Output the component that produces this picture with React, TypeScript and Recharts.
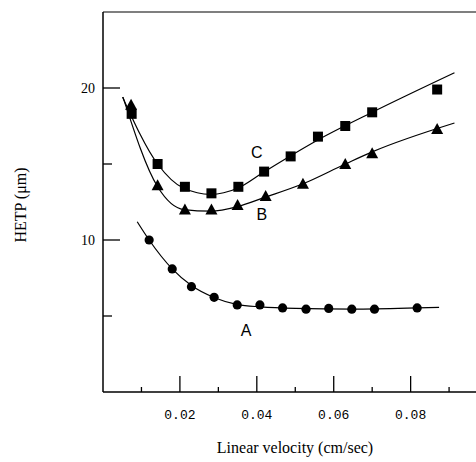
import { ComposedChart, Line, Scatter, XAxis, YAxis, ReferenceLine } from 'recharts';

// measured points
const velA = [0.012, 0.018, 0.023, 0.0289, 0.0349, 0.0408, 0.0467, 0.0528, 0.0587, 0.0647, 0.0706, 0.0817];
const hetpA = [10.0, 8.1, 6.93, 6.23, 5.73, 5.73, 5.53, 5.45, 5.5, 5.45, 5.45, 5.53];
const velB = [0.0073, 0.0142, 0.0213, 0.0282, 0.035, 0.0423, 0.052, 0.063, 0.07, 0.0869];
const hetpB = [18.9, 13.6, 12.0, 12.0, 12.3, 12.9, 13.7, 15.0, 15.7, 17.3];
const velC = [0.00745, 0.0142, 0.0213, 0.0282, 0.0352, 0.0419, 0.0488, 0.0559, 0.063, 0.07, 0.0869];
const hetpC = [18.3, 15.0, 13.5, 13.07, 13.5, 14.5, 15.5, 16.8, 17.5, 18.4, 19.9];

// fitted curves
const fitVelA = [0.0089, 0.012, 0.018, 0.023, 0.029, 0.035, 0.041, 0.05, 0.065, 0.0817, 0.0874];
const fitHetpA = [11.2, 10.0, 8.1, 7.0, 6.2, 5.75, 5.6, 5.5, 5.45, 5.53, 5.57];
const fitVelB = [0.0052, 0.0142, 0.021, 0.028, 0.035, 0.042, 0.052, 0.063, 0.07, 0.0914];
const fitHetpB = [19.4, 13.5, 12.0, 11.9, 12.2, 12.8, 13.7, 15.0, 15.8, 17.7];
const fitVelC = [0.0051, 0.0142, 0.021, 0.028, 0.035, 0.042, 0.056, 0.07, 0.0914];
const fitHetpC = [19.4, 15.0, 13.4, 13.0, 13.4, 14.5, 16.6, 18.4, 21.0];

const xTicks = [0.01, 0.02, 0.03, 0.04, 0.05, 0.06, 0.07, 0.08, 0.09];
const yTicks = [5, 10, 15, 20];
const labelledX = [0.02, 0.04, 0.06, 0.08];
const labelledY = [10, 20];

const zip = (xs: number[], ys: number[]) => xs.map((v, i) => ({ v, h: ys[i] }));

const FONT = '"Liberation Serif", serif';

function XTick({ x, y, payload }: any) {
  const major = labelledX.some((t) => Math.abs(t - payload.value) < 1e-6);
  return (
    <g>
      <line x1={x} x2={x} y1={y} y2={y - (major ? 16 : 5)} stroke="#000" strokeWidth={1.3} />
      {major && (
        <text x={x} y={y + 27} textAnchor="middle" fontFamily='"Liberation Mono", monospace' fontSize={13} fill="#000">
          {payload.value.toFixed(2)}
        </text>
      )}
    </g>
  );
}

function YTick({ x, y, payload }: any) {
  const major = labelledY.includes(payload.value);
  return (
    <g>
      <line x1={x} x2={x + (major ? 17 : 9)} y1={y} y2={y} stroke="#000" strokeWidth={1.3} />
      {major && (
        <text x={x - 8} y={y + 5} textAnchor="end" fontFamily={FONT} fontSize={14} fill="#000">
          {payload.value}
        </text>
      )}
    </g>
  );
}

const Square = ({ cx, cy }: any) => <rect x={cx - 5} y={cy - 5} width={10} height={10} fill="#000" />;
const Tri = ({ cx, cy }: any) => <path d={`M${cx},${cy - 6} L${cx + 6},${cy + 5} L${cx - 6},${cy + 5} Z`} fill="#000" />;
const Dot = ({ cx, cy }: any) => <circle cx={cx} cy={cy} r={4.6} fill="#000" />;

const curveLabel = (text: string) => (props: any) => {
  const { viewBox } = props;
  return (
    <text x={viewBox.x} y={viewBox.y + 6} textAnchor="middle" fontFamily='"Liberation Sans", sans-serif' fontSize={16} fill="#000">
      {text}
    </text>
  );
};

export default function App() {
  return (
    <div style={{ position: 'absolute', left: 0, top: 0, width: 476, height: 462, background: '#fff' }}>
      <ComposedChart width={476} height={462} margin={{ top: 12, right: 0, bottom: 40, left: 63 }}>
        <XAxis type="number" dataKey="v" domain={[0, 0.097]} ticks={xTicks} tick={<XTick />} tickLine={false} tickSize={0} tickMargin={0}
          height={30} axisLine={{ stroke: '#000', strokeWidth: 1.5 }} allowDataOverflow />
        <YAxis type="number" dataKey="h" domain={[0, 25]} ticks={yTicks} tick={<YTick />} tickLine={false} tickSize={0} tickMargin={0}
          width={40} axisLine={{ stroke: '#000', strokeWidth: 1.5 }} allowDataOverflow />
        <ReferenceLine y={25} stroke="#000" strokeWidth={1.2} />
        <Line data={zip(fitVelA, fitHetpA)} dataKey="h" type="monotone" stroke="#000" strokeWidth={1.2} dot={false} isAnimationActive={false} />
        <Line data={zip(fitVelB, fitHetpB)} dataKey="h" type="monotone" stroke="#000" strokeWidth={1.2} dot={false} isAnimationActive={false} />
        <Line data={zip(fitVelC, fitHetpC)} dataKey="h" type="monotone" stroke="#000" strokeWidth={1.2} dot={false} isAnimationActive={false} />
        <Scatter data={zip(velA, hetpA)} dataKey="h" shape={<Dot />} isAnimationActive={false} />
        <Scatter data={zip(velB, hetpB)} dataKey="h" shape={<Tri />} isAnimationActive={false} />
        <Scatter data={zip(velC, hetpC)} dataKey="h" shape={<Square />} isAnimationActive={false} />
        <ReferenceLine segment={[{ x: 0.04, y: 15.8 }, { x: 0.04, y: 15.8 }]} stroke="none" label={curveLabel('C')} />
        <ReferenceLine segment={[{ x: 0.0413, y: 11.7 }, { x: 0.0413, y: 11.7 }]} stroke="none" label={curveLabel('B')} />
        <ReferenceLine segment={[{ x: 0.0372, y: 4.1 }, { x: 0.0372, y: 4.1 }]} stroke="none" label={curveLabel('A')} />
      </ComposedChart>
      <div style={{ position: 'absolute', left: 0, top: 439, width: 476, paddingLeft: 114, boxSizing: 'border-box', textAlign: 'center', fontFamily: FONT, fontSize: 16 }}>
        Linear velocity (cm/sec)
      </div>
      <div style={{ position: 'absolute', left: 21, top: 205, transform: 'translate(-50%, -50%) rotate(-90deg)', whiteSpace: 'nowrap', fontFamily: FONT, fontSize: 16 }}>
        HETP (μm)
      </div>
    </div>
  );
}
